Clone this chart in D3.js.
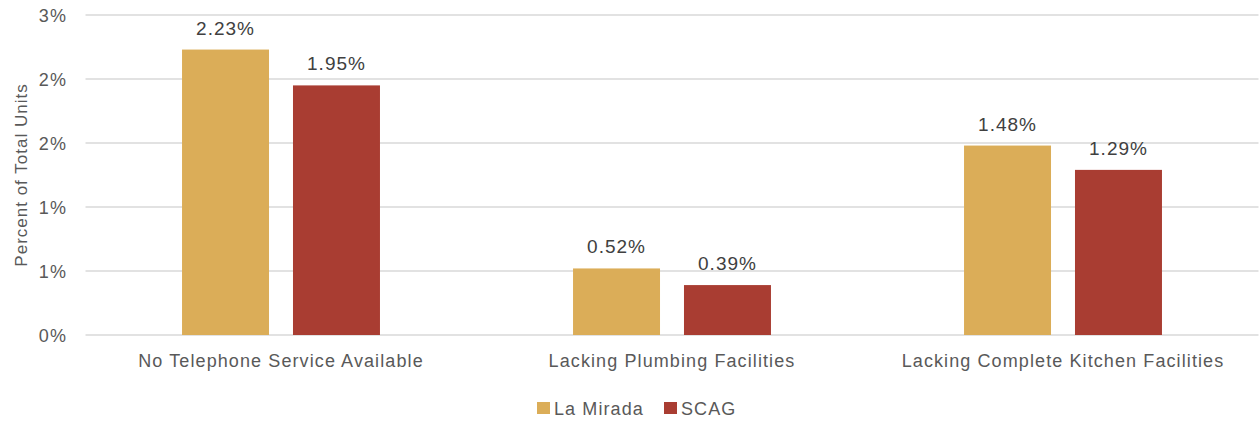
<!DOCTYPE html>
<html lang="en">
<head>
  <meta charset="UTF-8" />
  <title>Housing Problems</title>
  <script src="https://d3js.org/d3.v7.min.js"></script>
  <style>
    body { margin: 0; background: #fff; }
    text { font-family: "Liberation Sans", Arial, sans-serif; letter-spacing: 1.1px; }
    .grid line { stroke: #d9d9d9; stroke-width: 1.5px; }
  </style>
</head>
<body>
  <svg id="chart" width="1259" height="421"></svg>
  <script>
    const categories = ["No Telephone Service Available", "Lacking Plumbing Facilities", "Lacking Complete Kitchen Facilities"];
    const series = ["La Mirada", "SCAG"];
    const laMirada = [2.23, 0.52, 1.48];
    const scag = [1.95, 0.39, 1.29];
    const yTicks = [0, 0.5, 1, 1.5, 2, 2.5];
    const yTickLabels = ["0%", "1%", "1%", "2%", "2%", "3%"];
    const colors = ["#dbad58", "#a93d32"];

    const svg = d3.select("#chart");
    const margin = { left: 85.5, right: 0.5, top: 15, bottom: 86 };
    const width = 1259, height = 421;

    const x = d3.scaleBand()
      .domain(categories)
      .range([margin.left, width - margin.right]);

    const x1 = d3.scaleBand()
      .domain(series)
      .range([0, x.bandwidth()])
      .paddingInner(0.216)
      .paddingOuter(0.87);

    const y = d3.scaleLinear()
      .domain([0, 2.5])
      .range([height - margin.bottom, margin.top]);

    // Gridlines
    svg.append("g")
      .attr("class", "grid")
      .selectAll("line")
      .data(yTicks)
      .enter()
      .append("line")
      .attr("x1", margin.left)
      .attr("x2", width - margin.right)
      .attr("y1", d => y(d))
      .attr("y2", d => y(d));

    // Tick labels (rounded like the original)
    svg.append("g")
      .selectAll("text")
      .data(yTicks)
      .enter()
      .append("text")
      .attr("x", 67)
      .attr("y", d => y(d) + 7)
      .attr("text-anchor", "end")
      .attr("fill", "#595959")
      .style("font-size", "18px")
      .text((d, i) => yTickLabels[i]);

    // Axis title
    svg.append("text")
      .attr("transform", `translate(27,${(y(0) + y(2.5)) / 2}) rotate(-90)`)
      .attr("text-anchor", "middle")
      .attr("fill", "#595959")
      .style("font-size", "17px")
      .style("letter-spacing", "1px")
      .text("Percent of Total Units");

    const rows = categories.map((c, i) => ({ cat: c, values: [laMirada[i], scag[i]] }));

    const groups = svg.selectAll("g.cat")
      .data(rows)
      .enter()
      .append("g")
      .attr("class", "cat")
      .attr("transform", d => `translate(${x(d.cat)},0)`);

    groups.selectAll("rect")
      .data(d => d.values.map((v, j) => ({ s: series[j], v: v, j: j })))
      .enter()
      .append("rect")
      .attr("x", d => x1(d.s))
      .attr("width", x1.bandwidth())
      .attr("y", d => y(d.v))
      .attr("height", d => y(0) - y(d.v))
      .attr("fill", d => colors[d.j]);

    groups.selectAll("text.val")
      .data(d => d.values.map((v, j) => ({ s: series[j], v: v })))
      .enter()
      .append("text")
      .attr("class", "val")
      .attr("x", d => x1(d.s) + x1.bandwidth() / 2)
      .attr("y", d => y(d.v) - 15)
      .attr("text-anchor", "middle")
      .attr("fill", "#404040")
      .style("font-size", "19px")
      .style("letter-spacing", "1px")
      .text(d => d.v.toFixed(2) + "%");

    // Category labels
    svg.append("g")
      .selectAll("text")
      .data(categories)
      .enter()
      .append("text")
      .attr("x", d => x(d) + x.bandwidth() / 2)
      .attr("y", 367)
      .attr("text-anchor", "middle")
      .attr("fill", "#595959")
      .style("font-size", "18px")
      .text(d => d);

    // Legend
    const legendX = [537, 664];
    const legend = svg.append("g")
      .selectAll("g")
      .data(series)
      .enter()
      .append("g")
      .attr("transform", (d, i) => `translate(${legendX[i]},402)`);

    legend.append("rect")
      .attr("width", 13)
      .attr("height", 12)
      .attr("fill", (d, i) => colors[i]);

    legend.append("text")
      .attr("x", 17)
      .attr("y", 12.5)
      .attr("fill", "#595959")
      .style("font-size", "18px")
      .text(d => d);
  </script>
</body>
</html>
